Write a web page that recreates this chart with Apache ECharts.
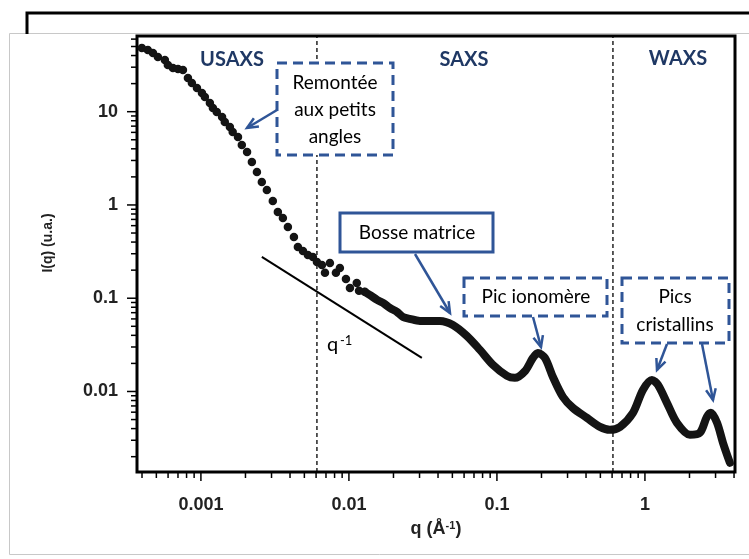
<!DOCTYPE html>
<html><head><meta charset="utf-8">
<script src="https://cdn.jsdelivr.net/npm/echarts@6/dist/echarts.min.js"></script>
<style>html,body{margin:0;padding:0;background:#fff;}#c{width:749px;height:559px;}</style>
</head><body><div id="c"></div>
<script>
// ---- data (q in Å^-1, I in a.u.) ----
const qDots = [3.99e-4,4.38e-4,4.74e-4,5.12e-4,5.71e-4,5.98e-4,6.47e-4,7.0e-4,7.56e-4,8.17e-4,8.69e-4,9.40e-4,
  1.016e-3,1.064e-3,1.15e-3,1.205e-3,1.28e-3,1.39e-3,1.45e-3,1.57e-3,1.64e-3,1.78e-3,1.89e-3,2.05e-3,2.21e-3,2.39e-3,
  2.58e-3,2.79e-3,3.06e-3,3.31e-3,3.58e-3,3.87e-3,4.25e-3,4.52e-3,4.89e-3,5.28e-3,5.71e-3,6.08e-3,6.57e-3,6.89e-3,
  7.44e-3,8.17e-3,8.69e-3,9.55e-3,1.016e-2,1.13e-2,1.17e-2,1.28e-2];
const iDots = [48.2,45.8,42.6,38.6,35.8,31.7,29.4,28.7,28.0,23.0,20.3,17.9,
  15.9,14.4,12.4,10.96,9.93,8.77,7.76,6.86,6.06,5.35,4.40,3.70,2.89,2.26,
  1.76,1.45,1.10,0.841,0.726,0.581,0.454,0.355,0.321,0.291,0.277,0.245,0.227,0.187,
  0.239,0.187,0.211,0.161,0.129,0.146,0.120,0.117];
const qTrace = [0.0128,0.0139,0.0155,0.0170,0.0189,0.0211,0.0232,0.0258,0.0302,0.0353,0.0412,0.0504,0.0627,0.0768,
  0.0940,0.117,0.132,0.155,0.175,0.189,0.211,0.239,0.279,0.326,0.406,0.497,0.580,0.678,0.830,0.969,1.115,1.224,
  1.408,1.645,2.014,2.35,2.62,2.79,3.07,3.37,3.75];
const iTrace = [0.117,0.108,0.0959,0.0891,0.0787,0.0713,0.0630,0.0600,0.0571,0.0571,0.0571,0.0517,0.0394,0.0279,
  0.0193,0.0147,0.0140,0.0166,0.0229,0.0259,0.0229,0.0143,0.00875,0.00667,0.00521,0.00417,0.00388,0.00417,0.00590,0.0104,0.0133,0.0118,
  0.00755,0.00461,0.00343,0.00360,0.00534,0.00590,0.00461,0.00281,0.00172];
const qSlope = [0.00258, 0.0311];
const iSlope = [0.277, 0.0229];
const regionBounds = [0.00608, 0.608];
const regionNames = ['USAXS', 'SAXS', 'WAXS'];
const xMajorTicks = [0.001, 0.01, 0.1, 1];
const xMinorTicks = [4e-4,5e-4,6e-4,7e-4,8e-4,9e-4,2e-3,3e-3,4e-3,5e-3,6e-3,7e-3,8e-3,9e-3,
  0.02,0.03,0.04,0.05,0.06,0.07,0.08,0.09,0.2,0.3,0.4,0.5,0.6,0.7,0.8,0.9,2,3,4];
const yMajorTicks = [0.01, 0.1, 1, 10];
const yMinorTicks = [0.002,0.003,0.004,0.005,0.006,0.007,0.008,0.009,0.02,0.03,0.04,0.05,0.06,0.07,0.08,0.09,
  0.2,0.3,0.4,0.5,0.6,0.7,0.8,0.9,2,3,4,5,6,7,8,9,20,30,40,50,60];
const X_MIN = 3.7e-4, X_MAX = 4.06, Y_MIN = 0.00137, Y_MAX = 64.8;

const BLUE = '#2F5597', NAVY = '#1F3864', INK = '#141414';
const zip = (a, b) => a.map((v, i) => [v, b[i]]);
const isPow10 = v => Math.abs(Math.log10(v) - Math.round(Math.log10(v))) < 1e-6;
const fmt = v => { const e = Math.round(Math.log10(v)); return e >= 0 ? String(Math.pow(10, e)) : Math.pow(10, e).toFixed(-e); };

function tickSeries(values, axis, len) {
  return {
    type: 'custom', clip: false, silent: true, z: 5,
    data: values.map(v => axis === 'x' ? [v, Y_MIN] : [X_MIN, v]),
    renderItem: function (params, api) {
      const cs = params.coordSys;
      const p = api.coord([api.value(0), api.value(1)]);
      if (axis === 'x') {
        const b = cs.y + cs.height + 1;
        return { type: 'line', shape: { x1: p[0], y1: b, x2: p[0], y2: b + len }, style: { stroke: '#000', lineWidth: 1.5 } };
      }
      const l = cs.x - 1;
      return { type: 'line', shape: { x1: l, y1: p[1], x2: l - len, y2: p[1] }, style: { stroke: '#000', lineWidth: 1.5 } };
    }
  };
}
function boundSeries(v) {
  return { type: 'line', silent: true, showSymbol: false, z: 2, data: [[v, Y_MIN], [v, Y_MAX]],
    lineStyle: { color: '#000', type: [4, 3], width: 1.3 } };
}

function arrow(x1, y1, x2, y2) {
  const ang = Math.atan2(y2 - y1, x2 - x1), L = 12, a = 0.42;
  const p1 = [x2 - L * Math.cos(ang - a), y2 - L * Math.sin(ang - a)];
  const p2 = [x2 - L * Math.cos(ang + a), y2 - L * Math.sin(ang + a)];
  return [
    { type: 'line', z: 100, shape: { x1, y1, x2, y2 }, style: { stroke: BLUE, lineWidth: 2.5 } },
    { type: 'polyline', z: 100, shape: { points: [p1, [x2, y2], p2] }, style: { stroke: BLUE, lineWidth: 2.5, fill: null } }
  ];
}
function box(x, y, w, h, dashed) {
  return { type: 'rect', z: 99, shape: { x, y, width: w, height: h },
    style: { fill: '#fff', stroke: BLUE, lineWidth: 3, lineDash: dashed ? [10, 6] : null } };
}
function boxText(text, x, y, lh) {
  return { type: 'text', z: 101, style: { text, x, y, align: 'center', verticalAlign: 'middle',
    font: '19px Lato', fill: '#000', lineHeight: lh || 27 } };
}
function regionText(text, x, y) {
  return { type: 'text', z: 101, style: { text, x, y, align: 'center', verticalAlign: 'middle',
    font: 'bold 20px Lato', fill: NAVY } };
}

const chart = echarts.init(document.getElementById('c'), null, { renderer: 'canvas' });
chart.setOption({
  backgroundColor: '#fff',
  animation: false,
  grid: { left: 137, right: 14, top: 36, bottom: 87, show: true, borderColor: '#000', borderWidth: 3, backgroundColor: 'transparent' },
  xAxis: {
    type: 'log', logBase: 10, min: X_MIN, max: X_MAX,
    axisLine: { show: false }, axisTick: { show: false }, splitLine: { show: false },
    axisLabel: { margin: 24, color: '#222', fontSize: 18, fontWeight: 'bold', fontFamily: 'Liberation Sans',
      formatter: v => isPow10(v) ? fmt(v) : '' },
    name: 'q (Å{s|-1})', nameLocation: 'middle', nameGap: 48,
    nameTextStyle: { color: '#222', fontSize: 18, fontWeight: 'bold', fontFamily: 'Liberation Sans',
      rich: { s: { fontSize: 11, fontWeight: 'bold', fontFamily: 'Liberation Sans', color: '#222', verticalAlign: 'top', padding: [0, 0, 8, 0] } } }
  },
  yAxis: {
    type: 'log', logBase: 10, min: Y_MIN, max: Y_MAX,
    axisLine: { show: false }, axisTick: { show: false }, splitLine: { show: false },
    axisLabel: { margin: 19, color: '#222', fontSize: 18, fontWeight: 'bold', fontFamily: 'Liberation Sans',
      formatter: v => isPow10(v) ? fmt(v) : '' },
    name: 'I(q) (u.a.)', nameLocation: 'middle', nameGap: 82, nameRotate: 90,
    nameTextStyle: { color: '#222', fontSize: 14, fontWeight: 'bold', fontFamily: 'Liberation Sans', padding: [0, 0, 0, 22] }
  },
  series: [
    boundSeries(regionBounds[0]),
    boundSeries(regionBounds[1]),
    { type: 'line', name: 'slope', data: zip(qSlope, iSlope), showSymbol: false, silent: true,
      lineStyle: { color: '#000', width: 2 }, z: 3 },
    { type: 'scatter', name: 'dots', data: zip(qDots, iDots), symbolSize: 8.5, silent: true,
      itemStyle: { color: INK, opacity: 1 }, z: 4 },
    { type: 'line', name: 'trace', data: zip(qTrace, iTrace), showSymbol: false, smooth: 0.3, silent: true,
      lineStyle: { color: INK, width: 8, cap: 'round', join: 'round' }, z: 4 },
    tickSeries(xMajorTicks, 'x', 8),
    tickSeries(xMinorTicks, 'x', 5),
    tickSeries(yMajorTicks, 'y', 9),
    tickSeries(yMinorTicks, 'y', 5)
  ],
  graphic: [
    { type: 'rect', z: -10, shape: { x: 9.5, y: 33.5, width: 760, height: 521 }, style: { fill: '#fff', stroke: '#c8c8c8', lineWidth: 1 } },
    { type: 'polyline', z: -5, shape: { points: [[27, 34], [27, 13], [760, 13]] }, style: { stroke: '#000', lineWidth: 3, fill: null } },
    regionText(regionNames[0], 232, 60),
    regionText(regionNames[1], 464, 60),
    regionText(regionNames[2], 678, 59),
    box(277, 63, 116, 92, true),
    boxText('Remontée\naux petits\nangles', 335, 110),
    ...arrow(277, 110, 247, 128),
    box(340, 213, 153, 39, false),
    boxText('Bosse matrice', 417, 233),
    ...arrow(415, 254, 450, 313),
    box(464, 278, 143, 38, true),
    boxText('Pic ionomère', 536, 297),
    ...arrow(533, 317, 541, 347),
    box(622, 278, 107, 65, true),
    boxText('Pics\ncristallins', 675, 311, 28),
    ...arrow(667, 344, 657, 370),
    ...arrow(702, 344, 713, 400),
    { type: 'text', z: 101, style: { text: 'q', x: 327, y: 355, verticalAlign: 'bottom', font: '20px Lato', fill: '#000' } },
    { type: 'text', z: 101, style: { text: '-1', x: 340, y: 334, verticalAlign: 'top', font: '13px Lato', fill: '#000' } }
  ]
});
</script></body></html>
